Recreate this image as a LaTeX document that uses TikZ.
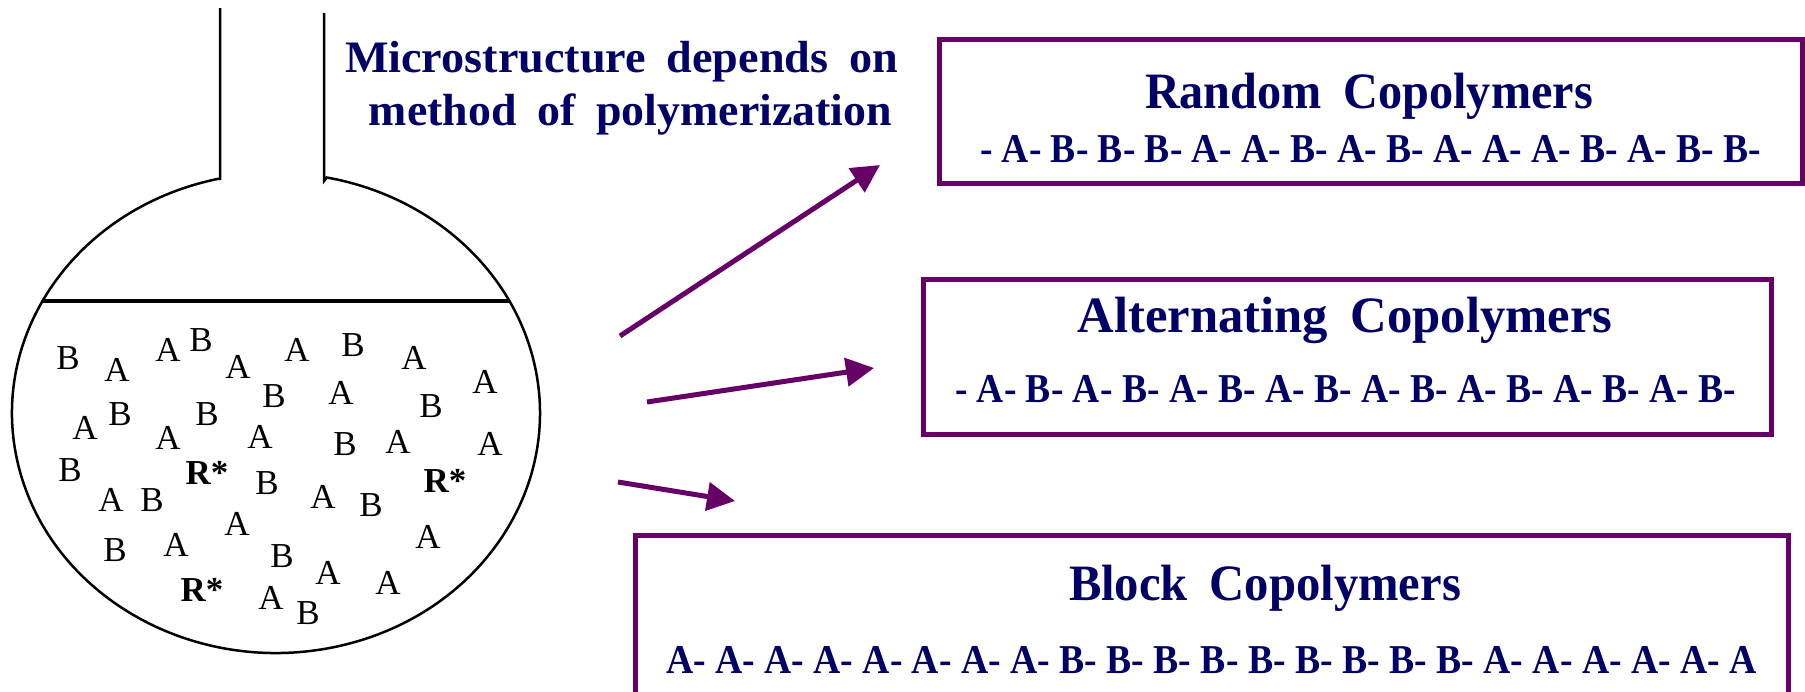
\documentclass[tikz,border=0pt]{standalone}
\usepackage{fontspec}
\setmainfont{Liberation Serif}
\usepackage{graphicx}
\usetikzlibrary{arrows.meta}
\definecolor{navy}{HTML}{000066}
\definecolor{plum}{HTML}{660066}
\newcommand\fitto[2]{\resizebox{#1}{\height}{#2}}
\newcommand\wg{\hspace{0.45em}}
\begin{document}
\begin{tikzpicture}[x=1pt,y=-1pt,
  flask/.style={line width=2.5pt, black},
  mono/.style={font=\fontsize{35}{40}\selectfont, inner sep=0pt},
  rad/.style={font=\bfseries\fontsize{35}{40}\selectfont, inner sep=0pt},
  box/.style={draw=plum, line width=5pt, inner sep=0pt},
  title/.style={text=navy, font=\bfseries\fontsize{51}{56}\selectfont, inner sep=0pt, anchor=base},
  chain/.style={text=navy, font=\bfseries\fontsize{41}{46}\selectfont, inner sep=0pt, anchor=base},
  head/.style={text=navy, font=\bfseries\fontsize{45}{50}\selectfont, inner sep=0pt, anchor=base},
  arr/.style={plum, line width=5pt, -{Triangle[length=28pt,width=28pt]}}]

\useasboundingbox (0,0) rectangle (1805,691);

% flask
\draw[flask] (220,8) -- (220,178.8) -- (218.4,178.8)
  arc[start angle=-102.6, end angle=-438.9, x radius=264, y radius=240]
  -- (324,181) -- (324,13);
\draw[line width=4pt] (42,301) -- (510,301);

% monomers
\foreach \t/\x/\y [count=\i] in {
  B/68/358, A/117/370, A/168/350, B/201/340, A/238/367, A/297/350, B/353/345,
  A/414/358, A/485/382, B/274/396, A/341/393, B/431/406, A/85/428, B/120/414,
  B/207/414, A/168/438, A/260/437, B/345/444, A/398/442, A/490/444, B/70/470,
  B/267/483, A/111/500, B/152/500, A/323/497, B/371/505, A/237/524, B/115/550,
  A/176/545, A/428/537, B/282/556, A/328/573, A/388/583, A/271/598, B/308/613}
  \node[mono] (m\i) at (\x,\y) {\t};
\node[rad] (r1) at (207,473) {R*};
\node[rad] (r2) at (445,481) {R*};
\node[rad] (r3) at (202,590) {R*};

% heading
\node[head] (h1) at (621.5,72) {\fitto{553pt}{Microstructure\wg depends\wg on}};
\node[head] (h2) at (630.5,125) {\fitto{523pt}{method\wg of\wg polymerization}};

% boxes
\node[box, minimum width=862.5pt, minimum height=144pt] (rbox) at (1370.75,111.5) {};
\node[box, minimum width=848pt, minimum height=155pt] (abox) at (1347.5,357) {};
\node[box, minimum width=1152.5pt, minimum height=158.5pt] (bbox) at (1211.75,614.75) {};

\node[title] (rt) at (1369,108) {\fitto{448pt}{Random\wg Copolymers}};
\node[chain] (rc) at (1370.5,162) {\fitto{781pt}{- A- B- B- B- A- A- B- A- B- A- A- A- B- A- B- B-}};
\node[title] (at) at (1345,332) {\fitto{535pt}{Alternating\wg Copolymers}};
\node[chain] (ac) at (1345.5,402) {\fitto{781pt}{- A- B- A- B- A- B- A- B- A- B- A- B- A- B- A- B-}};
\node[title] (bt) at (1265,600) {\fitto{392pt}{Block\wg Copolymers}};
\node[chain] (bc) at (1211.5,673) {\fitto{1091pt}{A- A- A- A- A- A- A- A- B- B- B- B- B- B- B- B- B- A- A- A- A- A- A}};

% arrows
\coordinate (a1s) at (620,336); \coordinate (a1e) at (880,165);
\coordinate (a2s) at (647,402); \coordinate (a2e) at (874,368);
\coordinate (a3s) at (618,482); \coordinate (a3e) at (735,501);
\draw[arr] (a1s) -- (a1e);
\draw[arr] (a2s) -- (a2e);
\draw[arr] (a3s) -- (a3e);
\end{tikzpicture}
\end{document}
